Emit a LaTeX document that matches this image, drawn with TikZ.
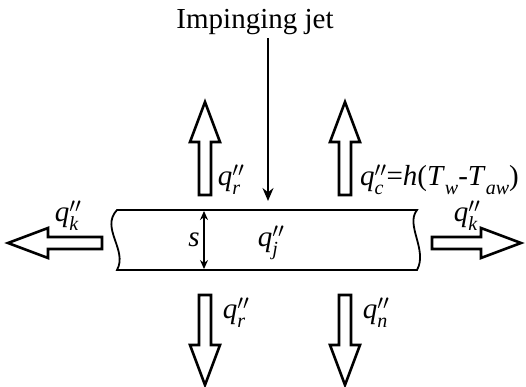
\documentclass[tikz,border=0pt]{standalone}
\usepackage{fontspec}
\setmainfont{Liberation Serif}
\usetikzlibrary{arrows.meta}
\newcommand{\hollowarr}[4]{% x, y, angle, length
  \begin{scope}[shift={(#1,#2)},rotate=#3]
    \draw[harrow] (0,-6) -- ({#4-40},-6) -- ({#4-40},-15) -- (#4,0) -- ({#4-40},15) -- ({#4-40},6) -- (0,6) -- cycle;
  \end{scope}}
\newcommand{\subx}[1]{\raisebox{-0.3em}{\fontsize{20}{20}\selectfont\itshape #1}}
\newcommand{\qq}[1]{\textit{q}{\ooalign{$^{\prime\prime}$\cr\subx{#1}\cr}}}
\begin{document}
\begin{tikzpicture}[x=1pt,y=-1pt,
  harrow/.style={line width=2.6pt,line join=miter,draw=black,fill=white},
  lbl/.style={font=\fontsize{29}{32}\selectfont,inner sep=0pt},
  plate/.style={line width=1.8pt,draw=black}]
\useasboundingbox (0,0) rectangle (526,386);
% plate
\draw[plate] (117,210) -- (417,210)
  .. controls (405,225) and (428,250) .. (417,270)
  -- (117,270)
  .. controls (128,250) and (100,228) .. (117,210) -- cycle;
% jet
\node[lbl,font=\fontsize{29}{32}\selectfont] (jet) at (255,22) {Impinging jet};
\coordinate (jetend) at (268,201);
\draw[line width=1.5pt,-{Stealth[length=13pt,width=11pt]}] (268,38) -- (jetend);
% thickness
\coordinate (st) at (204,211);
\coordinate (sb) at (204,269);
\draw[line width=1.4pt,{Stealth[length=9pt,width=8pt]}-{Stealth[length=9pt,width=8pt]}] (st) -- (sb);
\node[lbl] (s) at (194,240) {\textit{s}};
\node[lbl] (qj) at (271,243) {\qq{j}};
% hollow arrows
\hollowarr{205}{195}{90}{93}
\hollowarr{345}{195}{90}{93}
\hollowarr{205}{295}{-90}{90}
\hollowarr{345}{295}{-90}{90}
\hollowarr{102}{243}{180}{94}
\hollowarr{432}{243}{0}{89}
% labels
\node[lbl] (qr1) at (231,180) {\qq{r}};
\node[lbl,anchor=west] (qc) at (360,180) {\qq{c}=\textit{h}(\textit{T}\subx{w}-\textit{T}\subx{aw})};
\node[lbl] (qkl) at (68,216) {\qq{k}};
\node[lbl] (qkr) at (467,216) {\qq{k}};
\node[lbl] (qr2) at (236,313) {\qq{r}};
\node[lbl] (qn) at (376,313) {\qq{n}};
\end{tikzpicture}
\end{document}
